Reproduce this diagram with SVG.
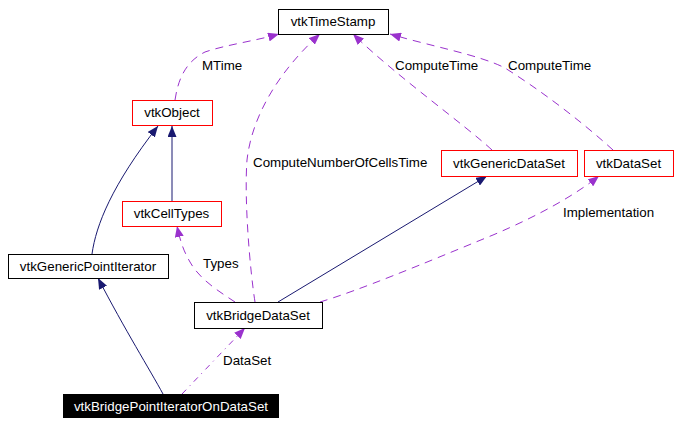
<svg xmlns="http://www.w3.org/2000/svg" width="679" height="426" viewBox="0 0 679 426">
<style>
text{font-family:"Liberation Sans",Arial,sans-serif;font-size:13.33px;fill:#000}
.n{text-anchor:middle}
.box{fill:#fff;stroke:#000;stroke-width:1}
.red{fill:#fff;stroke:#ff0000;stroke-width:1}
.inh{fill:none;stroke:#191970;stroke-width:1}
.use{fill:none;stroke:#9a32cd;stroke-width:1;stroke-dasharray:8,6}
.dd{fill:none;stroke:#9a32cd;stroke-width:1;stroke-dasharray:6,5,1,5}
</style>
<defs>
<marker id="ab" markerUnits="userSpaceOnUse" viewBox="0 0 11 9" refX="11" refY="4.5" markerWidth="11" markerHeight="9" orient="auto"><path d="M0,0 L11,4.5 L0,9 z" fill="#191970"/></marker>
<marker id="ap" markerUnits="userSpaceOnUse" viewBox="0 0 11 9" refX="11" refY="4.5" markerWidth="11" markerHeight="9" orient="auto"><path d="M0,0 L11,4.5 L0,9 z" fill="#9a32cd"/></marker>
</defs>
<rect width="679" height="426" fill="#fff"/>
<g id="edges">
<path class="use" marker-end="url(#ap)" d="M175,100 C178,80 185,62 205,52 C225,45 255,41 279,34"/>
<path class="inh" marker-end="url(#ab)" d="M172,201 L172,126"/>
<path class="inh" marker-end="url(#ab)" d="M92,254 C96,225 112,185 158,126"/>
<path class="use" marker-end="url(#ap)" d="M255,302 C250,270 244,200 247,160 C252,115 280,70 320,34"/>
<path class="use" marker-end="url(#ap)" d="M492,150 C465,125 395,75 353,34"/>
<path class="use" marker-end="url(#ap)" d="M613,150 C580,120 540,90 505,68 C480,55 430,46 390,34"/>
<path class="inh" marker-end="url(#ab)" d="M278,302 L487,176"/>
<path class="use" marker-end="url(#ap)" d="M320,302 C360,290 420,265 493,235 C540,215 575,195 599,176"/>
<path class="use" marker-end="url(#ap)" d="M235,302 C220,292 200,280 190,262 C183,250 180,240 177,226"/>
<path class="inh" marker-end="url(#ab)" d="M163,394 C150,370 125,330 98,278"/>
<path class="dd" marker-end="url(#ap)" d="M182,394 L245,328"/>
<text x="202" y="70">MTime</text>
<text x="253" y="167">ComputeNumberOfCellsTime</text>
<text x="395" y="70">ComputeTime</text>
<text x="508" y="70">ComputeTime</text>
<text x="563" y="217">Implementation</text>
<text x="203" y="268">Types</text>
<text x="223" y="365">DataSet</text>
</g>
<g id="vtkTimeStamp"><rect class="box" x="278.5" y="9.5" width="110" height="25"/><text class="n" x="333" y="26">vtkTimeStamp</text></g>
<g id="vtkObject"><rect class="red" x="132.5" y="100.5" width="80" height="25"/><text class="n" x="172" y="117">vtkObject</text></g>
<g id="vtkGenericDataSet"><rect class="red" x="441.5" y="150.5" width="136" height="26"/><text class="n" x="509" y="168">vtkGenericDataSet</text></g>
<g id="vtkDataSet"><rect class="red" x="584.5" y="150.5" width="89" height="26"/><text class="n" x="628.5" y="168">vtkDataSet</text></g>
<g id="vtkCellTypes"><rect class="red" x="122.5" y="201.5" width="99" height="25"/><text class="n" x="171.5" y="218">vtkCellTypes</text></g>
<g id="vtkGenericPointIterator"><rect class="box" x="8.5" y="254.5" width="160" height="24"/><text class="n" x="88" y="271">vtkGenericPointIterator</text></g>
<g id="vtkBridgeDataSet"><rect class="box" x="194.5" y="302.5" width="128" height="26"/><text class="n" x="258" y="320">vtkBridgeDataSet</text></g>
<g id="vtkBridgePointIteratorOnDataSet"><rect x="63" y="394" width="216" height="24" fill="#000"/><text class="n" x="171" y="411" style="fill:#fff">vtkBridgePointIteratorOnDataSet</text></g>
</svg>
